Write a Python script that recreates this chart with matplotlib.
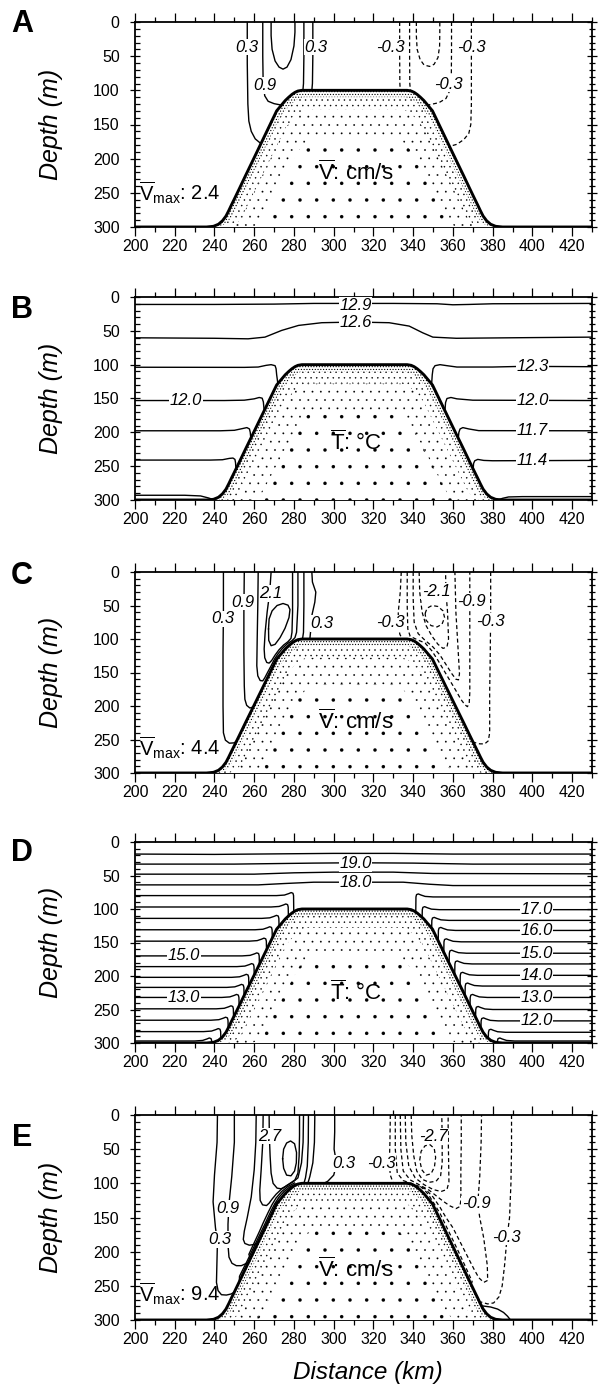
import matplotlib
matplotlib.use("Agg")
import matplotlib.pyplot as plt
from matplotlib.path import Path
from matplotlib.patches import PathPatch, Polygon
from matplotlib import font_manager

plt.rcParams['font.family'] = ['Liberation Sans', 'DejaVu Sans']
plt.rcParams['mathtext.fontset'] = 'custom'
plt.rcParams['mathtext.rm'] = 'Liberation Sans'
plt.rcParams['mathtext.it'] = 'Liberation Sans:italic'
plt.rcParams['hatch.color'] = 'black'

_names = {f.name for f in font_manager.fontManager.ttflist}
TICKFONT = 'Liberation Sans Narrow' if 'Liberation Sans Narrow' in _names else 'Liberation Sans'
TICKSIZE = 13.5 if TICKFONT == 'Liberation Sans Narrow' else 11.5

# ---------------- data ----------------
x_ticks = [200, 220, 240, 260, 280, 300, 320, 340, 360, 380, 400, 420]
y_ticks = [0, 50, 100, 150, 200, 250, 300]
panel_letters = ['A', 'B', 'C', 'D', 'E']

# bank (topography) profile: distance (km), depth (m)
bank_x = [196, 236, 239.5, 242, 244, 245.8, 247.2, 248.5, 249.85, 252.5, 255.6, 259.75, 263.05,
          266.35, 268.0, 269.65, 271.3, 273.6, 275.6, 277.4, 279, 280.5, 282, 284,
          337, 339, 340.5, 342, 343.6, 345.4, 347.4, 349.7, 351.35, 353, 354.65, 357.95,
          361.25, 365.4, 368.5, 371.15, 372.5, 373.8, 375.2, 377, 379, 381.5, 385, 434]
bank_depth = [300, 300, 299, 296, 291, 284, 276, 268, 260, 244, 225, 200, 180,
              160, 150, 140, 130, 122, 115, 110, 106, 103, 101, 100,
              100, 101, 103, 106, 110, 115, 122, 130, 140, 150, 160, 180,
              200, 225, 244, 260, 268, 276, 284, 291, 296, 299, 300, 300]

# ----- Panel A: mean velocity (cm/s) -----
A_solid = [
    [(256.5, 0), (256.5, 60), (256.8, 120), (257.3, 145), (258.5, 160), (260.5, 171), (263.4, 178)],
    [(289.5, 0), (289.5, 50), (289.3, 90), (289, 100)],
    [(264.3, 0), (264.3, 50), (264.5, 90), (265.3, 108), (267, 116), (270, 119.5), (273.5, 121.5)],
    [(285, 0), (285, 50), (284.8, 90), (284.5, 100.3)],
    [(268.5, 0), (268.5, 20), (269, 40), (270.5, 57), (272.5, 66), (274.5, 69), (276.5, 66),
     (278.5, 55), (280, 35), (280.5, 15), (280.5, 0)],
]
A_dashed = [
    [(333.2, 0), (333.2, 50), (333.3, 90), (333.5, 100)],
    [(338.2, 0), (338.2, 50), (338.3, 90), (338.6, 100.7)],
    [(341.6, 0), (341.6, 20), (342, 40), (343.5, 55), (345.5, 63), (348.3, 65), (350.5, 62),
     (352.5, 52), (353.3, 35), (353.4, 15), (353.4, 0)],
    [(359.3, 0), (359.3, 40), (359.2, 80), (358.5, 100), (356.5, 112), (353, 118), (347.6, 121.5)],
    [(369.3, 0), (369.3, 60), (369.3, 120), (369, 150), (368, 163), (365.5, 172), (362, 179), (358.3, 182)],
]
A_labels = [('0.3', 256.5, 37), ('0.3', 291.0, 37), ('0.9', 265.5, 93),
            ('-0.3', 328.5, 37), ('-0.3', 357.6, 91), ('-0.3', 369.3, 37)]

# ----- Panel B: mean temperature (degC) -----
B_lines = [
    [(200, 11), (240, 11), (270, 10.5), (290, 9.5), (330, 9.5), (352, 10), (360, 11.5), (368, 11),
     (380, 10), (430, 9.5)],
    [(200, 60.3), (240, 61), (256.9, 61.8), (265.4, 59.3), (273.8, 49.4), (282.3, 42), (294, 38),
     (311, 37), (327.9, 38), (338, 43), (344.8, 52.9), (349.9, 59.3), (361.7, 61), (400, 60), (430, 59.3)],
    [(200, 103.8), (255, 104), (262, 103.5), (266, 101), (268.5, 100), (270.5, 101.5), (271, 106),
     (271.3, 115), (271.9, 128)],
    [(349.3, 128), (349.6, 115), (350, 106), (351, 101.5), (353.5, 100), (357, 101.5), (362, 103.5),
     (380, 103.5), (395, 102.5), (430, 103)],
    [(200, 153), (245, 153), (255, 152.5), (260, 150.5), (262.5, 148.5), (264, 149.5), (264.6, 155), (265, 168)],
    [(356, 168), (356.3, 156), (357, 150), (359, 148.5), (362, 150.5), (370, 152.5), (430, 153)],
    [(200, 197.7), (243, 197.7), (250, 197), (254, 194.5), (256.3, 193), (257.6, 195), (258, 200), (258.3, 209)],
    [(362.7, 209), (363, 200), (363.6, 195), (365, 193), (368, 195), (373, 197.5), (430, 197.7)],
    [(200, 241), (238, 241), (244, 240.5), (247.5, 238.5), (249.3, 238), (250.3, 240), (250.6, 245), (250.8, 254)],
    [(370.2, 254), (370.4, 246), (371, 242), (372.5, 240), (375.5, 241.5), (380, 242), (430, 241.5)],
    [(200, 293), (225, 293), (233, 294), (237, 297), (239.5, 299.5)],
    [(383, 299.5), (385, 297.5), (388, 295.5), (395, 295), (430, 295)],
]
B_labels = [('12.9', 311, 12), ('12.6', 311, 37), ('12.3', 400, 103), ('12.0', 225.5, 153),
            ('12.0', 400, 152.8), ('11.7', 400, 197.7), ('11.4', 400, 241.5)]

# ----- Panel C: mean velocity (cm/s) -----
C_solid = [
    [(244.5, 0), (244.5, 60), (244.3, 120), (244.3, 200), (244.5, 240), (245.5, 251), (247.5, 255.5),
     (250, 255), (251.6, 251)],
    [(289, 0), (289.3, 15), (291, 30), (290.5, 45), (289, 65), (288.5, 85), (288, 100)],
    [(255, 0), (254.8, 60), (254.8, 120), (255, 170), (255.3, 190), (256.2, 199), (257.8, 203), (259.6, 201.5)],
    [(285, 0), (285, 50), (284.8, 90), (284.3, 100.2)],
    [(262, 0), (261.8, 50), (261.5, 100), (261.3, 140), (261.8, 155), (263, 162), (264.3, 162.5),
     (265.3, 158), (266.7, 150), (268.5, 140), (270.2, 130), (272, 122), (274.2, 114), (276.7, 107),
     (279, 102.5), (280.5, 98), (281.3, 90), (282, 50), (282, 0)],
    [(268.5, 0), (267.8, 30), (266.5, 60), (265.5, 90), (265, 115), (265.3, 128), (266.3, 135),
     (267.5, 136), (268.8, 132), (270.5, 124), (272.5, 116), (274.8, 109), (277, 104), (278.5, 99),
     (279, 90), (279.3, 60), (279.3, 20), (279.3, 0)],
    [(267.2, 85), (267.5, 70), (269, 58), (271.5, 50), (274.5, 47), (277, 49.5), (278, 56), (277.5, 68),
     (275.5, 84), (273, 98), (270.5, 108), (268.5, 110), (267.3, 102), (267.2, 85)],
]
C_dashed = [
    [(334, 0), (333.5, 30), (332.5, 60), (332.5, 80), (333.3, 93), (334.5, 100)],
    [(379, 0), (379, 60), (378.8, 120), (378.5, 180), (378.5, 240), (377.8, 252), (376, 256.5),
     (373.5, 256.5), (370.2, 254)],
    [(337, 0), (337, 50), (337.3, 85), (338.5, 96), (342, 101), (346, 106), (349.5, 118), (352.5, 132),
     (355.5, 147), (358.5, 162), (361.5, 177), (364, 190), (366, 198), (367.3, 201), (368.2, 196),
     (368.5, 180), (368.5, 120), (368.5, 60), (368.5, 0)],
    [(340, 0), (340, 40), (340.5, 75), (342.5, 92), (346, 102), (350, 112), (353.5, 124), (356.5, 138),
     (359.5, 152), (361.5, 160), (362.8, 161), (363.3, 152), (362.5, 110), (361.5, 60), (361, 0)],
    [(343, 0), (343.3, 30), (344.5, 60), (346.5, 80), (349.5, 96), (352.5, 108), (355, 114), (357, 112),
     (357.8, 100), (357.3, 60), (356.5, 30), (356.3, 0)],
    [(346, 62), (347, 54), (349.5, 50), (352.5, 51.5), (355, 58), (355.8, 68), (354.5, 78), (352, 82),
     (349, 80), (346.5, 72), (346, 62)],
]
C_labels = [('0.3', 244.0, 70), ('0.9', 254.5, 45), ('2.1', 268.5, 32), ('0.3', 294, 77),
            ('-0.3', 328.5, 76), ('-2.1', 351.5, 29), ('-0.9', 369.5, 44), ('-0.3', 378.8, 74)]

# ----- Panel D: mean temperature (degC) -----
D_full = [
    [(200, 18), (240, 18.5), (280, 17.5), (300, 17), (330, 17), (360, 18), (400, 18), (430, 18)],
    [(200, 33), (250, 33), (290, 31.5), (311, 31), (340, 31.5), (370, 33), (430, 33)],
    [(200, 48), (260, 48), (280, 46), (300, 45), (330, 45), (350, 47), (430, 47.5)],
    [(200, 64), (262, 64), (275, 62), (290, 60), (311, 60), (335, 60), (348, 63), (360, 65), (430, 65)],
]
D_left_depth = [80, 97, 114, 131, 148, 170, 186, 202, 217, 232, 249, 266, 283, 297]
D_left_hook = [279.2, 276.5, 271.8, 268.4, 265.5, 261.9, 259.3, 256.6, 254.2, 251.7, 248.9, 246.2, 242.5, 238]
D_left_hit = [104.2, 110.5, 125.8, 143.3, 160.9, 182.7, 198.5, 214.8, 229.4, 244.5, 261.5, 277.7, 293, 299.5]
D_right_depth = [82, 101, 117, 132, 149, 166, 182, 199, 215, 232, 250, 267, 284, 297]
D_right_hook = [342, 345.2, 350, 353.3, 356.1, 358.8, 361.6, 364.3, 366.8, 369.3, 372.1, 374.8, 378.5, 383]
D_right_hit = [104.6, 112.5, 128.6, 147.6, 164.5, 180.9, 197.9, 214.2, 229.4, 244.5, 261.5, 277.7, 293, 299.2]
D_labels = [('19.0', 311, 32), ('18.0', 311, 60.5), ('17.0', 402, 101), ('16.0', 402, 132),
            ('15.0', 402, 166), ('14.0', 402, 199), ('13.0', 402, 232), ('12.0', 402, 267),
            ('15.0', 224.5, 170), ('13.0', 224.5, 232)]

# ----- Panel E: mean velocity (cm/s) -----
E_solid = [
    [(241.5, 0), (241.3, 40), (240, 88), (239.3, 127), (240.5, 165), (241.5, 185), (241.2, 220),
     (241, 245), (241.8, 257), (243.5, 263), (246, 263.5), (248.3, 262), (249.9, 259.5)],
    [(300.5, 0), (300.5, 25), (300.2, 50), (301.5, 72), (300, 88), (297, 97), (295, 100)],
    [(250, 0), (250, 40), (248.7, 90), (247.3, 130), (246.8, 160), (246.8, 190), (247.3, 208),
     (248.8, 217), (251, 220.5), (253.5, 220.5), (256.2, 217)],
    [(290.5, 0), (290.3, 40), (289.5, 70), (288, 90), (287, 100)],
    [(261, 0), (260.8, 40), (260, 80), (258.5, 120), (256.5, 150), (255, 170), (254.5, 182),
     (255.3, 188), (257.5, 190.5), (260, 189.5), (261.5, 187.5)],
    [(287.3, 0), (287.2, 40), (286.7, 75), (285.8, 92), (285, 100.1)],
    [(264.5, 0), (264.3, 40), (263.5, 80), (262.8, 110), (263, 125), (264.2, 131.5), (266.2, 132.5),
     (267.5, 129), (269, 123), (271, 116), (273.5, 109), (276.5, 103), (279.5, 98), (282, 92),
     (283.8, 70), (284.6, 40), (284.8, 0)],
    [(267.5, 0), (267.6, 30), (268, 60), (268.5, 85), (269.5, 100), (271.5, 107), (273.5, 108),
     (275.5, 105), (278, 100), (280.5, 95), (282, 85), (282.6, 60), (282.8, 30), (282.8, 0)],
    [(274.3, 64), (274.8, 50), (276.3, 41), (278.3, 38), (280.3, 42), (281.3, 55), (281.2, 70),
     (280.3, 82), (278.5, 89), (276.3, 88), (274.8, 78), (274.3, 64)],
    [(252.5, 244), (252.6, 236), (254.3, 226), (256.4, 214), (258.7, 200), (262, 180), (265.3, 160),
     (268.5, 140), (270.3, 130), (272.3, 121), (275, 112), (278, 105), (281, 101), (284, 100.2)],
    [(258.5, 212), (257.3, 204), (259.5, 190), (262.7, 170), (264.5, 158), (267.1, 142), (269, 131),
     (271, 121.5), (273.8, 112), (277, 104.5), (280.3, 99.5)],
    [(375.2, 279.5), (379, 281), (382.5, 284), (385.5, 289), (387.5, 294.5), (389, 300)],
]
E_dashed = [
    [(328.5, 0), (328.3, 40), (328, 70), (328.5, 88), (330, 100)],
    [(389.5, 0), (389.5, 50), (389.2, 100), (388.5, 150), (387.2, 180), (386, 220), (384.8, 250),
     (383.2, 266), (380.5, 275), (377.5, 276.5), (373.9, 273.5)],
    [(331, 0), (331, 50), (332, 85), (335, 96), (340.5, 101.5), (346, 108), (350, 120), (353.5, 135),
     (356.5, 150), (360, 165), (363.5, 185), (367, 205), (370.5, 225), (373, 238), (375.5, 245),
     (377.5, 242), (377.3, 220), (375.5, 180), (373.5, 150), (372.5, 130), (373.5, 90), (374.2, 40),
     (374.4, 0)],
    [(333.5, 0), (333.8, 50), (335, 82), (338.5, 95), (343, 102), (348, 110), (351.5, 118), (355, 126),
     (358.5, 133), (361.5, 137), (363.5, 134), (364, 125), (364, 80), (364.2, 40), (364.2, 0)],
    [(336, 0), (336.3, 40), (337.8, 75), (341, 92), (345.5, 102), (350, 109), (354, 112), (357, 109),
     (358, 98), (357.8, 60), (357.6, 20), (357.6, 0)],
    [(339, 0), (339.3, 30), (340.3, 60), (341.8, 82), (344.5, 94), (348, 98.5), (351.5, 97),
     (353.8, 89), (354.6, 70), (354.6, 35), (354.4, 0)],
    [(343.3, 66), (344, 53), (346, 45), (348.5, 43.5), (350.6, 49), (351.3, 62), (350.7, 76), (349, 86),
     (346.5, 88), (344.3, 80), (343.3, 66)],
    [(343.6, 104.5), (345.8, 110), (347.8, 117), (350.6, 130), (353.7, 145), (356.5, 162), (359.5, 180),
     (362.8, 200), (366, 220), (368.5, 236), (369.7, 244), (369.2, 247)],
]
E_labels = [('2.7', 268, 31), ('0.9', 246.8, 137), ('0.3', 242.5, 182), ('0.3', 305, 71),
            ('-0.3', 324, 70.5), ('-2.7', 350, 31), ('-0.9', 371.8, 130), ('-0.3', 387, 179)]

vmax_values = {'A': '2.4', 'C': '4.4', 'E': '9.4'}

# ---------------- figure ----------------
W, H = 610, 1390
fig = plt.figure(figsize=(W / 100, H / 100), dpi=100)
fig.patch.set_facecolor('white')

LEFT, RIGHT = 135, 592
panel_px = [(22, 227), (297, 500), (572, 773), (842, 1043), (1115, 1320)]
letter_y = [24, 310, 576, 853, 1138]


def make_ax(top, bottom):
    ax = fig.add_axes([LEFT / W, 1 - bottom / H, (RIGHT - LEFT) / W, (bottom - top) / H])
    ax.set_xlim(200, 430)
    ax.set_ylim(300, 0)
    ax.set_xticks(x_ticks)
    ax.set_xticks(range(200, 431, 10), minor=True)
    ax.set_yticks(y_ticks)
    ax.set_yticks(range(0, 301, 10), minor=True)
    ax.tick_params(axis='x', which='major', direction='out', length=6.5, width=0.9,
                   top=True, bottom=True, pad=2.0)
    ax.tick_params(axis='x', which='minor', direction='out', length=3.5, width=0.9,
                   top=True, bottom=True)
    ax.tick_params(axis='y', which='major', direction='inout', length=7, width=0.9,
                   left=True, right=False, pad=7.5)
    ax.tick_params(axis='y', which='minor', direction='in', length=3.5, width=0.9,
                   left=True, right=False)
    for lab in ax.get_xticklabels() + ax.get_yticklabels():
        lab.set_fontfamily(TICKFONT)
        lab.set_fontsize(TICKSIZE)
    for sp in ax.spines.values():
        sp.set_linewidth(1.3)
    ax2 = ax.twinx()
    ax2.set_ylim(300, 0)
    ax2.set_yticks(y_ticks)
    ax2.set_yticks(range(0, 301, 10), minor=True)
    ax2.tick_params(axis='y', which='major', direction='inout', length=7, width=0.9, labelright=False)
    ax2.tick_params(axis='y', which='minor', direction='inout', length=5, width=0.9)
    for sp in ax2.spines.values():
        sp.set_visible(False)
    ax.set_ylabel('Depth (m)', fontsize=18, style='italic')
    ax.yaxis.set_label_coords(-(LEFT - 63) / (RIGHT - LEFT), 0.5)
    return ax


def shrink(pts, fx, fd):
    return [(310.5 + (x - 310.5) * fx, 300 - (300 - d) * fd) for x, d in pts]


def ring(outer, inner):
    verts = outer + [outer[0]] + inner[::-1] + [inner[-1]]
    codes = ([Path.MOVETO] + [Path.LINETO] * (len(outer) - 1) + [Path.CLOSEPOLY]
             + [Path.MOVETO] + [Path.LINETO] * (len(inner) - 1) + [Path.CLOSEPOLY])
    return Path(verts, codes)


def draw_bank(ax):
    outer = list(zip(bank_x, bank_depth)) + [(434, 306), (196, 306)]
    mid1 = shrink(outer, 0.955, 0.95)
    mid2 = shrink(outer, 0.88, 0.86)
    mid3 = shrink(outer, 0.72, 0.66)
    ax.add_patch(Polygon(outer, closed=True, facecolor='white', edgecolor='none', lw=0, zorder=3))
    plt.rcParams['hatch.linewidth'] = 0.1
    ax.add_patch(PathPatch(ring(mid2, mid3), facecolor='none', edgecolor='black', lw=0,
                           hatch='..', zorder=3))
    ax.add_patch(Polygon(mid3, closed=True, facecolor='none', edgecolor='black', lw=0,
                         hatch='.', zorder=3))
    plt.rcParams['hatch.linewidth'] = 0.3
    ax.add_patch(PathPatch(ring(mid1, mid2), facecolor='none', edgecolor='black', lw=0,
                           hatch='...', zorder=3))
    plt.rcParams['hatch.linewidth'] = 0.5
    ax.add_patch(PathPatch(ring(outer, mid1), facecolor='none', edgecolor='black', lw=0,
                           hatch='......', zorder=3))
    ax.plot(bank_x, bank_depth, color='black', lw=2.1, zorder=4, solid_joinstyle='round')


def draw_lines(ax, lines, dashed=False):
    for pts in lines:
        xs = [p[0] for p in pts]
        ds = [p[1] for p in pts]
        if dashed:
            ax.plot(xs, ds, color='black', lw=0.9, dashes=(3.2, 2.2), zorder=2)
        else:
            ax.plot(xs, ds, color='black', lw=1.0, zorder=2)


def draw_labels(ax, labels, size=12):
    for s, x, d in labels:
        ax.text(x, d, s, ha='center', va='center', fontsize=size, style='italic', zorder=5,
                bbox=dict(facecolor='white', edgecolor='none', pad=0.5))


def hook_left(d, h, hit):
    return [(200, d), (h - 8, d), (h - 4, d - 0.8), (h - 1.8, d - 3), (h - 0.6, d - 4.5),
            (h + 0.3, d - 3.5), (h + 0.6, d), (h + 0.7, hit)]


def hook_right(d, h, hit):
    return [(h - 0.7, hit), (h - 0.6, d), (h - 0.3, d - 3.5), (h + 0.6, d - 4.5),
            (h + 1.8, d - 3), (h + 4, d - 0.8), (h + 8, d), (430, d)]


axes = [make_ax(t, b) for t, b in panel_px]
axA, axB, axC, axD, axE = axes

for ax in axes:
    draw_bank(ax)

draw_lines(axA, A_solid)
draw_lines(axA, A_dashed, dashed=True)
draw_labels(axA, A_labels)

draw_lines(axB, B_lines)
draw_labels(axB, B_labels, size=12)

draw_lines(axC, C_solid)
draw_lines(axC, C_dashed, dashed=True)
draw_labels(axC, C_labels)

draw_lines(axD, D_full)
draw_lines(axD, [hook_left(d, h, t) for d, h, t in zip(D_left_depth, D_left_hook, D_left_hit)])
draw_lines(axD, [hook_right(d, h, t) for d, h, t in zip(D_right_depth, D_right_hook, D_right_hit)])
draw_labels(axD, D_labels, size=12)

draw_lines(axE, E_solid)
draw_lines(axE, E_dashed, dashed=True)
draw_labels(axE, E_labels)

for ax, key, yv in [(axA, 'A', 250), (axC, 'C', 262), (axE, 'E', 262)]:
    ax.text(202, yv, r'$\overline{\mathrm{V}}_{\mathrm{max}}$: ' + vmax_values[key],
            ha='left', va='center', fontsize=14.5, zorder=6)
for ax, yv in [(axA, 220), (axC, 224), (axE, 226)]:
    ax.text(311, yv, r'$\overline{\mathrm{V}}$: cm/s', ha='center', va='center', fontsize=16, zorder=6)
for ax, yv in [(axB, 216), (axD, 225)]:
    ax.text(311, yv, r'$\overline{\mathrm{T}}$: °C', ha='center', va='center', fontsize=16, zorder=6)

for letter, yl in zip(panel_letters, letter_y):
    fig.text(22 / W, 1 - yl / H, letter, ha='center', va='center', fontsize=22, fontweight='bold')

fig.text(368 / W, 1 - 1373 / H, 'Distance (km)', ha='center', va='center', fontsize=17.5, style='italic')

fig.savefig('out.png', dpi=100, facecolor='white')
